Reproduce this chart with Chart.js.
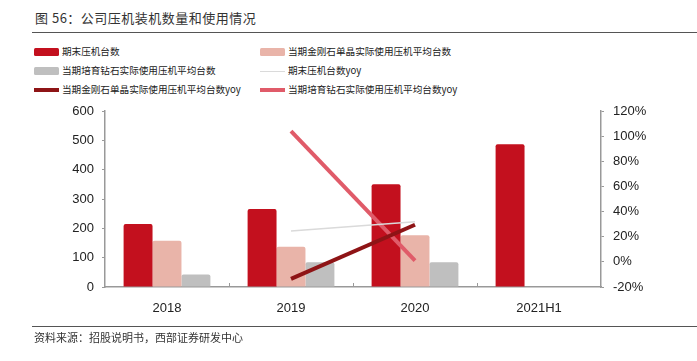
<!DOCTYPE html>
<html>
<head>
<meta charset="utf-8">
<script src="https://cdn.jsdelivr.net/npm/chart.js@4.4.0/dist/chart.umd.min.js"></script>
<style>
  body { margin: 0; width: 697px; height: 361px; background: #fff; position: relative; overflow: hidden;
         font-family: "Noto Sans CJK SC", "Liberation Sans", sans-serif; color: #222; }
  #title { position: absolute; left: 35px; top: 8px; font-size: 13px; letter-spacing: 0.5px; color: #333; }
  #titleLine { position: absolute; left: 32px; right: 0; top: 32px; border-top: 1.5px solid #555; }
  #footLine { position: absolute; left: 32px; right: 0; top: 326px; border-top: 1.5px solid #555; }
  #foot { position: absolute; left: 34px; top: 329px; font-size: 11px; letter-spacing: 0; color: #333; }
  #legend { position: absolute; left: 34px; top: 42px; width: 660px; }
  .item { position: absolute; height: 19px; font-size: 9.6px; line-height: 19px; white-space: nowrap; }
  .sw { position: absolute; left: 0; width: 25px; }
  .item span { position: absolute; left: 28px; top: 0; }
  canvas { position: absolute; left: 0; top: 0; }
</style>
</head>
<body>
<div id="title">图 56：公司压机装机数量和使用情况</div>
<div id="titleLine"></div>
<div id="legend"></div>
<canvas id="chart" width="697" height="361"></canvas>
<div id="footLine"></div>
<div id="foot">资料来源：招股说明书，西部证券研发中心</div>
<script>
// categories and series
const categories = ['2018', '2019', '2020', '2021H1'];
const pressEnd = [215, 266, 350, 487];          // 期末压机台数
const diamondAvg = [158, 137, 176, null];       // 当期金刚石单晶实际使用压机平均台数
const labGrownAvg = [43, 84, 84, null];         // 当期培育钻石实际使用压机平均台数
const pressEndYoy = [null, 24.5, 32, null];     // %
const diamondYoy = [null, -13.5, 29.5, null];   // %
const labGrownYoy = [null, 104, 1, null];       // %
const leftTicks = [0, 100, 200, 300, 400, 500, 600];
const rightTicks = [-20, 0, 20, 40, 60, 80, 100, 120];

const seriesNames = ['期末压机台数', '当期金刚石单晶实际使用压机平均台数', '当期培育钻石实际使用压机平均台数',
  '期末压机台数yoy', '当期金刚石单晶实际使用压机平均台数yoy', '当期培育钻石实际使用压机平均台数yoy'];

const RED = '#C3101E', PINK = '#E9B4A9', GRAY = '#BFBFBF';
const LGRAY = '#DADADA', DRED = '#8E1416', ROSE = '#E05B69';

function bar(label, data, color) {
  return { type: 'bar', label, data, backgroundColor: color, borderRadius: 2, borderSkipped: 'bottom',
           yAxisID: 'y', order: 2, categoryPercentage: 0.7, barPercentage: 1.0 };
}
function line(label, data, color, w) {
  return { type: 'line', label, data, borderColor: color, backgroundColor: color, borderWidth: w,
           pointRadius: 0, yAxisID: 'y1', order: 1, tension: 0 };
}

// inward tick marks on the category axis
const innerTicks = {
  id: 'innerTicks',
  afterDatasetsDraw(chart) {
    const x = chart.scales.x, ctx = chart.ctx, b = chart.chartArea.bottom;
    ctx.save();
    ctx.strokeStyle = '#999';
    ctx.lineWidth = 1;
    for (let i = 1; i < categories.length; i++) {
      const px = Math.round((x.getPixelForValue(i - 1) + x.getPixelForValue(i)) / 2) + 0.5;
      ctx.beginPath();
      ctx.moveTo(px, b);
      ctx.lineTo(px, b - 4);
      ctx.stroke();
    }
    ctx.restore();
  }
};

const tickFont = { family: 'Liberation Sans', size: 13 };

new Chart(document.getElementById('chart'), {
  data: {
    labels: categories,
    datasets: [
      bar(seriesNames[0], pressEnd, RED),
      bar(seriesNames[1], diamondAvg, PINK),
      bar(seriesNames[2], labGrownAvg, GRAY),
      line(seriesNames[3], pressEndYoy, LGRAY, 1.5),
      line(seriesNames[4], diamondYoy, DRED, 4),
      line(seriesNames[5], labGrownYoy, ROSE, 4)
    ]
  },
  options: {
    responsive: false,
    animation: false,
    layout: { padding: { top: 111, left: 0, right: 0, bottom: 0 } },
    plugins: { legend: { display: false }, tooltip: { enabled: false } },
    scales: {
      x: {
        grid: { display: false },
        border: { color: '#999', width: 1.5 },
        ticks: { color: '#222', font: tickFont, padding: 6 },
        afterFit(s) { s.height = 74; }
      },
      y: {
        position: 'left', min: 0, max: 600,
        afterBuildTicks(s) { s.ticks = leftTicks.map(v => ({ value: v })); },
        grid: { drawOnChartArea: false, tickLength: 3, color: '#999' },
        border: { color: '#999', width: 1.5 },
        ticks: { color: '#222', font: tickFont, padding: 8 },
        afterFit(s) { s.width = 105; }
      },
      y1: {
        position: 'right', min: -20, max: 120,
        afterBuildTicks(s) { s.ticks = rightTicks.map(v => ({ value: v })); },
        grid: { drawOnChartArea: false, tickLength: 3, color: '#999' },
        border: { color: '#999', width: 1.5 },
        ticks: { color: '#222', font: tickFont, padding: 9, callback: v => v + '%' },
        afterFit(s) { s.width = 96; }
      }
    }
  },
  plugins: [innerTicks]
});

// two-column legend
const legendStyle = [
  { color: RED, h: 8 }, { color: PINK, h: 8 }, { color: GRAY, h: 8 },
  { color: LGRAY, h: 1 }, { color: DRED, h: 3.5 }, { color: ROSE, h: 3.5 }
];
const legend = document.getElementById('legend');
seriesNames.forEach((name, i) => {
  const st = legendStyle[i];
  const item = document.createElement('div');
  item.className = 'item';
  item.style.left = (i % 2 === 0 ? 0 : 226) + 'px';
  item.style.top = (Math.floor(i / 2) * 19) + 'px';
  const sw = document.createElement('div');
  sw.className = 'sw';
  sw.style.background = st.color;
  sw.style.height = st.h + 'px';
  sw.style.top = (10 - st.h / 2) + 'px';
  if (st.h > 5) sw.style.borderRadius = '1.5px';
  item.appendChild(sw);
  const t = document.createElement('span');
  t.textContent = name;
  item.appendChild(t);
  legend.appendChild(item);
});
</script>
</body>
</html>
